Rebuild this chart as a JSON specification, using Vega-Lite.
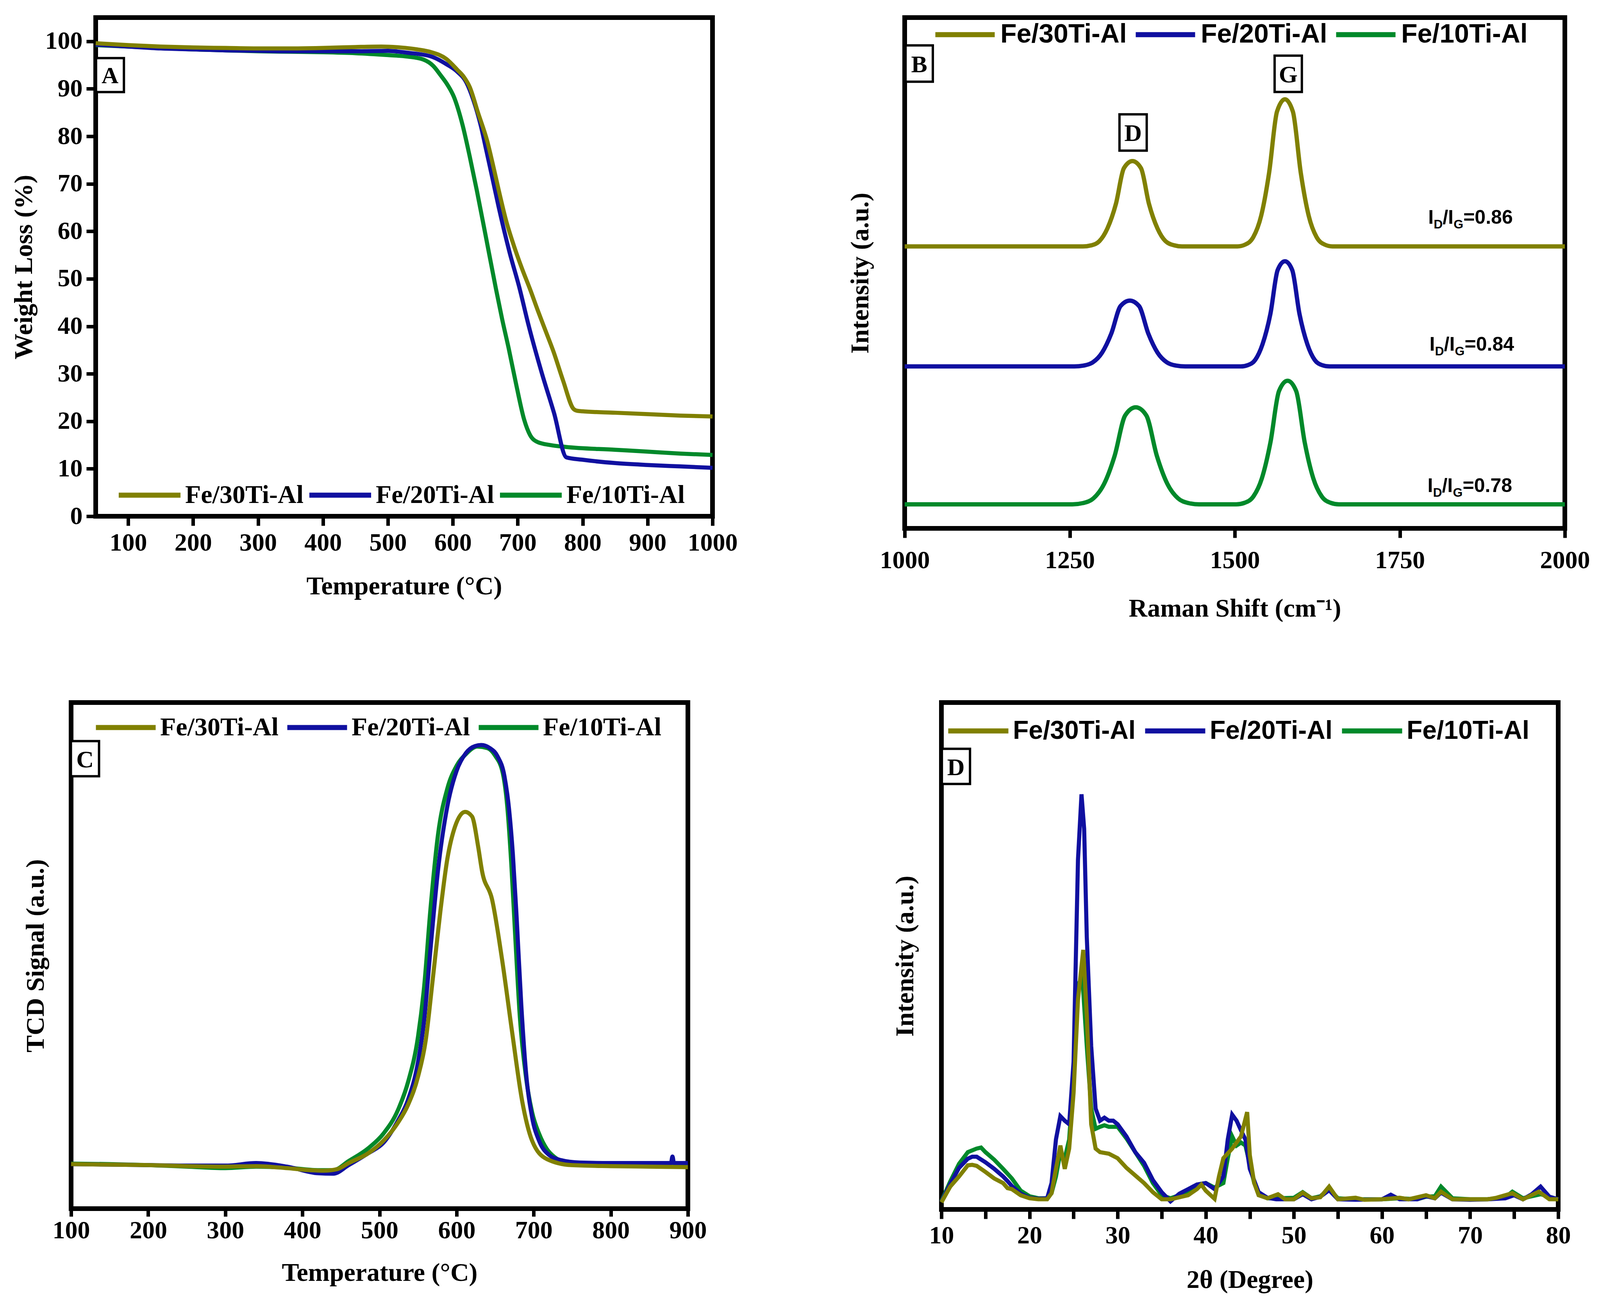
{
  "$schema": "https://vega.github.io/schema/vega-lite/v6.json",
  "background": "white",
  "padding": {"left": 22, "top": 0, "right": 0, "bottom": 0},
  "config": {
    "view": {"stroke": "black", "strokeWidth": 12},
    "axis": {
      "domain": false, "grid": false, "format": "d",
      "labelFont": "Liberation Serif", "labelFontWeight": "bold", "labelFontSize": 64, "labelColor": "black",
      "titleFont": "Liberation Serif", "titleFontWeight": "bold", "titleFontSize": 66, "titleColor": "black",
      "tickColor": "black", "tickSize": 24, "tickWidth": 9,
      "labelOverlap": false, "labelFlush": false
    }
  },
  "datasets": {
    "tga": [
      {"s":"10","x":50,"y":99.2},{"s":"10","x":100,"y":98.9},{"s":"10","x":150,"y":98.6},{"s":"10","x":200,"y":98.3},{"s":"10","x":250,"y":98.1},{"s":"10","x":300,"y":97.9},{"s":"10","x":350,"y":97.8},{"s":"10","x":400,"y":97.7},{"s":"10","x":450,"y":97.5},{"s":"10","x":500,"y":97.1},{"s":"10","x":530,"y":96.8},{"s":"10","x":554,"y":96.2},{"s":"10","x":570,"y":94.8},{"s":"10","x":581,"y":92.9},{"s":"10","x":592,"y":90.8},{"s":"10","x":602,"y":88.2},{"s":"10","x":615,"y":82.4},{"s":"10","x":626,"y":75.8},{"s":"10","x":637,"y":68.6},{"s":"10","x":650,"y":59.5},{"s":"10","x":666,"y":48.2},{"s":"10","x":676,"y":41.5},{"s":"10","x":686,"y":35.4},{"s":"10","x":698,"y":27.5},{"s":"10","x":710,"y":20.3},{"s":"10","x":719,"y":17.1},{"s":"10","x":731,"y":15.6},{"s":"10","x":750,"y":15.0},{"s":"10","x":774,"y":14.6},{"s":"10","x":850,"y":14.0},{"s":"10","x":900,"y":13.6},{"s":"10","x":950,"y":13.2},{"s":"10","x":1000,"y":12.9},
      {"s":"20","x":50,"y":99.3},{"s":"20","x":100,"y":98.9},{"s":"20","x":150,"y":98.5},{"s":"20","x":200,"y":98.3},{"s":"20","x":250,"y":98.1},{"s":"20","x":300,"y":98.0},{"s":"20","x":350,"y":97.9},{"s":"20","x":400,"y":97.9},{"s":"20","x":450,"y":97.9},{"s":"20","x":500,"y":98.0},{"s":"20","x":530,"y":97.6},{"s":"20","x":567,"y":96.8},{"s":"20","x":590,"y":95.2},{"s":"20","x":607,"y":93.6},{"s":"20","x":621,"y":91.3},{"s":"20","x":632,"y":87.5},{"s":"20","x":643,"y":82.3},{"s":"20","x":652,"y":76.8},{"s":"20","x":661,"y":71.2},{"s":"20","x":671,"y":64.9},{"s":"20","x":687,"y":55.8},{"s":"20","x":703,"y":47.9},{"s":"20","x":716,"y":40.6},{"s":"20","x":737,"y":30.2},{"s":"20","x":756,"y":21.7},{"s":"20","x":775,"y":12.4},{"s":"20","x":800,"y":11.9},{"s":"20","x":850,"y":11.2},{"s":"20","x":900,"y":10.8},{"s":"20","x":950,"y":10.5},{"s":"20","x":1000,"y":10.2},
      {"s":"30","x":50,"y":99.6},{"s":"30","x":100,"y":99.2},{"s":"30","x":150,"y":98.9},{"s":"30","x":200,"y":98.7},{"s":"30","x":250,"y":98.6},{"s":"30","x":300,"y":98.5},{"s":"30","x":350,"y":98.5},{"s":"30","x":400,"y":98.6},{"s":"30","x":450,"y":98.8},{"s":"30","x":490,"y":98.9},{"s":"30","x":520,"y":98.7},{"s":"30","x":545,"y":98.3},{"s":"30","x":567,"y":97.7},{"s":"30","x":590,"y":96.3},{"s":"30","x":607,"y":94.0},{"s":"30","x":617,"y":92.5},{"s":"30","x":626,"y":90.4},{"s":"30","x":639,"y":84.9},{"s":"30","x":653,"y":79.0},{"s":"30","x":661,"y":74.5},{"s":"30","x":671,"y":68.5},{"s":"30","x":682,"y":62.3},{"s":"30","x":694,"y":57.0},{"s":"30","x":707,"y":52.0},{"s":"30","x":719,"y":47.8},{"s":"30","x":731,"y":43.3},{"s":"30","x":743,"y":39},{"s":"30","x":755,"y":34.7},{"s":"30","x":770,"y":28.5},{"s":"30","x":786,"y":22.6},{"s":"30","x":792,"y":22.2},{"s":"30","x":800,"y":22.1},{"s":"30","x":850,"y":21.8},{"s":"30","x":900,"y":21.5},{"s":"30","x":950,"y":21.2},{"s":"30","x":1000,"y":21.0}
    ],
    "raman": [
      {"s":"10","x":1000,"y":4.7},{"s":"10","x":1254,"y":4.7},{"s":"10","x":1270,"y":4.95},{"s":"10","x":1286,"y":5.89},{"s":"10","x":1302,"y":8.69},{"s":"10","x":1318,"y":14.2},{"s":"10","x":1334,"y":22.12},{"s":"10","x":1350,"y":23.7},{"s":"10","x":1366,"y":22.12},{"s":"10","x":1382,"y":14.2},{"s":"10","x":1398,"y":8.69},{"s":"10","x":1414,"y":5.89},{"s":"10","x":1430,"y":4.95},{"s":"10","x":1446,"y":4.7},{"s":"10","x":1502,"y":4.7},{"s":"10","x":1515,"y":5.01},{"s":"10","x":1528,"y":6.21},{"s":"10","x":1541,"y":9.78},{"s":"10","x":1554,"y":16.8},{"s":"10","x":1567,"y":26.89},{"s":"10","x":1580,"y":28.9},{"s":"10","x":1593,"y":26.89},{"s":"10","x":1606,"y":16.8},{"s":"10","x":1619,"y":9.78},{"s":"10","x":1632,"y":6.21},{"s":"10","x":1645,"y":5.01},{"s":"10","x":1658,"y":4.7},{"s":"10","x":2000,"y":4.7},
      {"s":"20","x":1000,"y":31.7},{"s":"20","x":1257,"y":31.7},{"s":"20","x":1271,"y":31.87},{"s":"20","x":1285,"y":32.51},{"s":"20","x":1299,"y":34.41},{"s":"20","x":1313,"y":38.15},{"s":"20","x":1327,"y":43.53},{"s":"20","x":1341,"y":44.6},{"s":"20","x":1355,"y":43.53},{"s":"20","x":1369,"y":38.15},{"s":"20","x":1383,"y":34.41},{"s":"20","x":1397,"y":32.51},{"s":"20","x":1411,"y":31.87},{"s":"20","x":1425,"y":31.7},{"s":"20","x":1509,"y":31.7},{"s":"20","x":1520,"y":31.97},{"s":"20","x":1531,"y":32.99},{"s":"20","x":1542,"y":36.03},{"s":"20","x":1554,"y":42.0},{"s":"20","x":1565,"y":50.59},{"s":"20","x":1576,"y":52.3},{"s":"20","x":1587,"y":50.59},{"s":"20","x":1598,"y":42.0},{"s":"20","x":1610,"y":36.03},{"s":"20","x":1621,"y":32.99},{"s":"20","x":1632,"y":31.97},{"s":"20","x":1644,"y":31.7},{"s":"20","x":2000,"y":31.7},
      {"s":"30","x":1000,"y":55.2},{"s":"30","x":1270,"y":55.2},{"s":"30","x":1283,"y":55.42},{"s":"30","x":1295,"y":56.24},{"s":"30","x":1307,"y":58.7},{"s":"30","x":1320,"y":63.55},{"s":"30","x":1332,"y":70.5},{"s":"30","x":1345,"y":71.9},{"s":"30","x":1358,"y":70.5},{"s":"30","x":1370,"y":63.55},{"s":"30","x":1383,"y":58.7},{"s":"30","x":1395,"y":56.24},{"s":"30","x":1408,"y":55.42},{"s":"30","x":1420,"y":55.2},{"s":"30","x":1504,"y":55.2},{"s":"30","x":1516,"y":55.57},{"s":"30","x":1528,"y":57.0},{"s":"30","x":1540,"y":61.2},{"s":"30","x":1552,"y":69.6},{"s":"30","x":1564,"y":81.6},{"s":"30","x":1576,"y":84.0},{"s":"30","x":1588,"y":81.6},{"s":"30","x":1600,"y":69.6},{"s":"30","x":1612,"y":61.2},{"s":"30","x":1624,"y":57.0},{"s":"30","x":1636,"y":55.57},{"s":"30","x":1648,"y":55.2},{"s":"30","x":2000,"y":55.2}
    ],
    "ratio": [
      {"x":1793,"y":59.6,"val":"=0.86"},
      {"x":1795,"y":34.8,"val":"=0.84"},
      {"x":1792,"y":7.1,"val":"=0.78"}
    ],
    "tpr": [
      {"s":"10","x":100,"y":8.9},{"s":"10","x":150,"y":8.8},{"s":"10","x":200,"y":8.6},{"s":"10","x":250,"y":8.3},{"s":"10","x":300,"y":8.0},{"s":"10","x":340,"y":8.3},{"s":"10","x":380,"y":8.1},{"s":"10","x":420,"y":7.6},{"s":"10","x":440,"y":7.6},{"s":"10","x":460,"y":9.4},{"s":"10","x":486,"y":12},{"s":"10","x":505,"y":14.8},{"s":"10","x":524,"y":19.5},{"s":"10","x":537,"y":25},{"s":"10","x":550,"y":34},{"s":"10","x":558,"y":44},{"s":"10","x":566,"y":59},{"s":"10","x":576,"y":74},{"s":"10","x":588,"y":83},{"s":"10","x":600,"y":87.5},{"s":"10","x":612,"y":89.8},{"s":"10","x":627,"y":91.3},{"s":"10","x":640,"y":91.0},{"s":"10","x":650,"y":89.5},{"s":"10","x":660,"y":86},{"s":"10","x":666,"y":79},{"s":"10","x":671,"y":68},{"s":"10","x":676,"y":54},{"s":"10","x":682,"y":38},{"s":"10","x":690,"y":26},{"s":"10","x":698,"y":19},{"s":"10","x":707,"y":14.8},{"s":"10","x":717,"y":11.8},{"s":"10","x":727,"y":10.2},{"s":"10","x":736,"y":9.4},{"s":"10","x":755,"y":9.0},{"s":"10","x":800,"y":8.8},{"s":"10","x":850,"y":8.7},{"s":"10","x":900,"y":8.6},
      {"s":"20","x":100,"y":8.8},{"s":"20","x":150,"y":8.7},{"s":"20","x":200,"y":8.6},{"s":"20","x":250,"y":8.5},{"s":"20","x":300,"y":8.5},{"s":"20","x":340,"y":9.0},{"s":"20","x":380,"y":8.3},{"s":"20","x":420,"y":7.0},{"s":"20","x":440,"y":6.9},{"s":"20","x":460,"y":8.6},{"s":"20","x":486,"y":11.0},{"s":"20","x":505,"y":13.0},{"s":"20","x":524,"y":17.4},{"s":"20","x":537,"y":21.5},{"s":"20","x":550,"y":29},{"s":"20","x":558,"y":37.3},{"s":"20","x":566,"y":51},{"s":"20","x":576,"y":67},{"s":"20","x":588,"y":79.5},{"s":"20","x":600,"y":86.5},{"s":"20","x":612,"y":90},{"s":"20","x":624,"y":91.4},{"s":"20","x":632,"y":91.6},{"s":"20","x":643,"y":91},{"s":"20","x":653,"y":89.4},{"s":"20","x":662,"y":85.5},{"s":"20","x":668,"y":79},{"s":"20","x":673,"y":70},{"s":"20","x":678,"y":57.2},{"s":"20","x":684,"y":40},{"s":"20","x":690,"y":27},{"s":"20","x":698,"y":18},{"s":"20","x":707,"y":13.4},{"s":"20","x":720,"y":10.6},{"s":"20","x":735,"y":9.6},{"s":"20","x":760,"y":9.1},{"s":"20","x":800,"y":9.0},{"s":"20","x":850,"y":9.0},{"s":"20","x":878,"y":9.0},{"s":"20","x":880,"y":10.3},{"s":"20","x":882,"y":9.0},{"s":"20","x":900,"y":9.0},
      {"s":"30","x":100,"y":8.8},{"s":"30","x":150,"y":8.7},{"s":"30","x":200,"y":8.6},{"s":"30","x":250,"y":8.4},{"s":"30","x":300,"y":8.3},{"s":"30","x":340,"y":8.4},{"s":"30","x":380,"y":8.0},{"s":"30","x":410,"y":7.6},{"s":"30","x":428,"y":7.5},{"s":"30","x":445,"y":7.8},{"s":"30","x":460,"y":9.0},{"s":"30","x":486,"y":11.0},{"s":"30","x":505,"y":13.4},{"s":"30","x":524,"y":17.0},{"s":"30","x":537,"y":20.5},{"s":"30","x":550,"y":26.1},{"s":"30","x":560,"y":33.3},{"s":"30","x":569,"y":45.2},{"s":"30","x":579,"y":58.8},{"s":"30","x":588,"y":69.1},{"s":"30","x":598,"y":75.5},{"s":"30","x":611,"y":78.4},{"s":"30","x":620,"y":77.5},{"s":"30","x":628,"y":71.5},{"s":"30","x":633,"y":66.7},{"s":"30","x":646,"y":61.1},{"s":"30","x":659,"y":49.2},{"s":"30","x":672,"y":34.9},{"s":"30","x":685,"y":21.3},{"s":"30","x":698,"y":13.4},{"s":"30","x":717,"y":9.8},{"s":"30","x":749,"y":8.6},{"s":"30","x":800,"y":8.4},{"s":"30","x":850,"y":8.3},{"s":"30","x":900,"y":8.2}
    ],
    "xrd": [
      {"s":"10","x":10,"y":1.6},{"s":"10","x":11,"y":5.5},{"s":"10","x":12,"y":9},{"s":"10","x":13,"y":11.3},{"s":"10","x":14,"y":12.0},{"s":"10","x":14.5,"y":12.2},{"s":"10","x":15,"y":11.3},{"s":"10","x":16,"y":9.8},{"s":"10","x":17,"y":8.0},{"s":"10","x":18,"y":6.1},{"s":"10","x":19,"y":3.7},{"s":"10","x":20,"y":2.6},{"s":"10","x":21,"y":2.2},{"s":"10","x":22,"y":2.2},{"s":"10","x":22.5,"y":3.2},{"s":"10","x":23,"y":6.5},{"s":"10","x":23.5,"y":11.3},{"s":"10","x":24,"y":10.1},{"s":"10","x":24.5,"y":13.8},{"s":"10","x":25,"y":26.1},{"s":"10","x":25.5,"y":44.4},{"s":"10","x":26,"y":45.7},{"s":"10","x":26.5,"y":32.2},{"s":"10","x":27,"y":19.9},{"s":"10","x":27.5,"y":15.9},{"s":"10","x":28,"y":16.3},{"s":"10","x":28.5,"y":16.6},{"s":"10","x":29,"y":16.3},{"s":"10","x":30,"y":16.3},{"s":"10","x":31,"y":14.0},{"s":"10","x":32,"y":11.3},{"s":"10","x":33,"y":8.6},{"s":"10","x":34,"y":5.2},{"s":"10","x":35,"y":2.8},{"s":"10","x":36,"y":2.2},{"s":"10","x":37,"y":2.8},{"s":"10","x":38,"y":3.5},{"s":"10","x":39,"y":4.9},{"s":"10","x":40,"y":5.2},{"s":"10","x":41,"y":4.3},{"s":"10","x":42,"y":5.2},{"s":"10","x":42.5,"y":10.1},{"s":"10","x":43,"y":14.4},{"s":"10","x":43.5,"y":12.6},{"s":"10","x":44,"y":13.2},{"s":"10","x":44.5,"y":12.6},{"s":"10","x":45,"y":8.9},{"s":"10","x":45.5,"y":5.2},{"s":"10","x":46,"y":3.4},{"s":"10","x":47,"y":2.2},{"s":"10","x":48,"y":2.2},{"s":"10","x":50,"y":2.3},{"s":"10","x":51,"y":3.4},{"s":"10","x":52,"y":2.2},{"s":"10","x":53,"y":2.6},{"s":"10","x":54,"y":4.0},{"s":"10","x":55,"y":2.2},{"s":"10","x":57,"y":2.0},{"s":"10","x":60,"y":2.0},{"s":"10","x":62,"y":2.2},{"s":"10","x":64,"y":2.0},{"s":"10","x":65,"y":2.5},{"s":"10","x":66,"y":2.6},{"s":"10","x":66.7,"y":4.5},{"s":"10","x":68,"y":2.2},{"s":"10","x":70,"y":2.0},{"s":"10","x":72,"y":2.0},{"s":"10","x":74,"y":2.4},{"s":"10","x":74.8,"y":3.5},{"s":"10","x":76,"y":2.2},{"s":"10","x":78,"y":3.0},{"s":"10","x":80,"y":2.0},
      {"s":"20","x":10,"y":1.5},{"s":"20","x":11,"y":5},{"s":"20","x":12,"y":8.2},{"s":"20","x":13,"y":10},{"s":"20","x":13.5,"y":10.4},{"s":"20","x":14,"y":10.4},{"s":"20","x":15,"y":9.3},{"s":"20","x":16,"y":8.0},{"s":"20","x":17,"y":6.5},{"s":"20","x":17.5,"y":5.6},{"s":"20","x":18,"y":4.6},{"s":"20","x":19,"y":3.1},{"s":"20","x":20,"y":2.3},{"s":"20","x":21,"y":2.1},{"s":"20","x":22,"y":2.2},{"s":"20","x":22.5,"y":5.2},{"s":"20","x":23,"y":13.8},{"s":"20","x":23.5,"y":18.4},{"s":"20","x":24,"y":17.5},{"s":"20","x":24.5,"y":16.8},{"s":"20","x":25,"y":29.1},{"s":"20","x":25.5,"y":69},{"s":"20","x":25.9,"y":81.9},{"s":"20","x":26.2,"y":75.1},{"s":"20","x":26.5,"y":53.7},{"s":"20","x":27,"y":32.2},{"s":"20","x":27.5,"y":19.9},{"s":"20","x":28,"y":17.5},{"s":"20","x":28.5,"y":18.1},{"s":"20","x":29,"y":17.5},{"s":"20","x":29.5,"y":17.5},{"s":"20","x":30,"y":16.8},{"s":"20","x":31,"y":14.4},{"s":"20","x":32,"y":11.3},{"s":"20","x":33,"y":9.2},{"s":"20","x":34,"y":5.8},{"s":"20","x":35,"y":3.4},{"s":"20","x":36,"y":1.6},{"s":"20","x":37,"y":3.1},{"s":"20","x":38,"y":4.0},{"s":"20","x":39,"y":4.9},{"s":"20","x":40,"y":5.2},{"s":"20","x":41,"y":4.0},{"s":"20","x":42,"y":6.5},{"s":"20","x":42.5,"y":13.8},{"s":"20","x":43,"y":18.7},{"s":"20","x":43.5,"y":17.5},{"s":"20","x":44,"y":15.6},{"s":"20","x":44.5,"y":13.8},{"s":"20","x":45,"y":8.0},{"s":"20","x":46,"y":3.4},{"s":"20","x":47,"y":2.3},{"s":"20","x":48,"y":2.0},{"s":"20","x":50,"y":2.0},{"s":"20","x":51,"y":3.0},{"s":"20","x":52,"y":2.0},{"s":"20","x":53,"y":2.5},{"s":"20","x":54,"y":3.8},{"s":"20","x":55,"y":2.0},{"s":"20","x":57,"y":1.9},{"s":"20","x":60,"y":2.0},{"s":"20","x":61,"y":2.9},{"s":"20","x":62,"y":2.0},{"s":"20","x":64,"y":2.0},{"s":"20","x":65,"y":2.6},{"s":"20","x":66,"y":2.2},{"s":"20","x":66.7,"y":3.3},{"s":"20","x":68,"y":2.0},{"s":"20","x":70,"y":1.9},{"s":"20","x":72,"y":2.0},{"s":"20","x":74,"y":2.2},{"s":"20","x":75,"y":2.8},{"s":"20","x":76,"y":2.0},{"s":"20","x":77,"y":3.0},{"s":"20","x":78,"y":4.5},{"s":"20","x":79,"y":2.5},{"s":"20","x":80,"y":2.0},
      {"s":"30","x":10,"y":1.4},{"s":"30","x":11,"y":4.5},{"s":"30","x":12,"y":6.5},{"s":"30","x":13,"y":8.7},{"s":"30","x":13.5,"y":8.8},{"s":"30","x":14,"y":8.6},{"s":"30","x":15,"y":7.4},{"s":"30","x":16,"y":6.1},{"s":"30","x":17,"y":5.2},{"s":"30","x":17.5,"y":4.2},{"s":"30","x":18,"y":4.0},{"s":"30","x":19,"y":2.8},{"s":"30","x":20,"y":2.2},{"s":"30","x":21,"y":2.0},{"s":"30","x":22,"y":2.0},{"s":"30","x":22.5,"y":3.2},{"s":"30","x":23,"y":8.0},{"s":"30","x":23.5,"y":12.6},{"s":"30","x":24,"y":8.0},{"s":"30","x":24.5,"y":12.0},{"s":"30","x":25,"y":23.0},{"s":"30","x":25.5,"y":41.4},{"s":"30","x":26.1,"y":51.2},{"s":"30","x":26.5,"y":38.3},{"s":"30","x":27,"y":16.8},{"s":"30","x":27.5,"y":12.0},{"s":"30","x":28,"y":11.3},{"s":"30","x":29,"y":11.0},{"s":"30","x":30,"y":10.1},{"s":"30","x":31,"y":8.2},{"s":"30","x":32,"y":6.7},{"s":"30","x":33,"y":5.2},{"s":"30","x":34,"y":3.4},{"s":"30","x":35,"y":2.0},{"s":"30","x":36,"y":2.0},{"s":"30","x":37,"y":2.4},{"s":"30","x":38,"y":2.8},{"s":"30","x":39,"y":4.0},{"s":"30","x":39.5,"y":4.9},{"s":"30","x":40,"y":3.7},{"s":"30","x":41,"y":2.1},{"s":"30","x":41.5,"y":6.5},{"s":"30","x":42,"y":10.1},{"s":"30","x":43,"y":12.0},{"s":"30","x":44,"y":14.4},{"s":"30","x":44.7,"y":19.2},{"s":"30","x":45,"y":10.7},{"s":"30","x":45.5,"y":5.2},{"s":"30","x":46,"y":2.8},{"s":"30","x":47,"y":2.2},{"s":"30","x":48.2,"y":3.0},{"s":"30","x":49,"y":2.0},{"s":"30","x":50,"y":2.0},{"s":"30","x":51,"y":3.3},{"s":"30","x":52,"y":2.2},{"s":"30","x":53,"y":2.4},{"s":"30","x":54,"y":4.5},{"s":"30","x":55,"y":2.0},{"s":"30","x":57,"y":2.3},{"s":"30","x":58,"y":1.9},{"s":"30","x":60,"y":2.0},{"s":"30","x":62,"y":2.3},{"s":"30","x":63,"y":2.0},{"s":"30","x":65,"y":2.8},{"s":"30","x":66,"y":2.2},{"s":"30","x":66.7,"y":3.5},{"s":"30","x":68,"y":2.0},{"s":"30","x":70,"y":2.0},{"s":"30","x":72,"y":2.0},{"s":"30","x":73,"y":2.3},{"s":"30","x":74.8,"y":3.2},{"s":"30","x":76,"y":2.0},{"s":"30","x":77.8,"y":3.5},{"s":"30","x":79,"y":2.0},{"s":"30","x":80,"y":2.0}
    ],
    "tags": [
      {"p":"A","x":72,"y":92.9,"label":"A"},
      {"p":"B","x":1022,"y":91,"label":"B"},
      {"p":"B","x":1346,"y":77.5,"label":"D"},
      {"p":"B","x":1581,"y":89,"label":"G"},
      {"p":"C","x":118,"y":88.9,"label":"C"},
      {"p":"D","x":11.65,"y":87.4,"label":"D"}
    ]
  },
  "columns": 1,
  "spacing": 177,
  "resolve": {"scale": {"color": "independent"}, "legend": {"color": "independent"}},
  "concat": [
    {
      "spacing": 269,
      "resolve": {"scale": {"color": "independent"}, "legend": {"color": "independent"}},
      "hconcat": [
        {
          "spacing": -161,
          "resolve": {"scale": {"color": "independent"}, "legend": {"color": "independent"}},
          "hconcat": [
            {
              "width": 1,
              "height": 1,
              "view": {"fill": "white", "stroke": null},
              "data": {"values": []},
              "mark": "point"
            },
            {
              "width": 1579,
              "height": 1277,
              "encoding": {
                "x": {"field": "x", "type": "quantitative", "scale": {"domain": [50, 1000], "nice": false, "zero": false},
                  "axis": {"title": "Temperature (°C)", "values": [100, 200, 300, 400, 500, 600, 700, 800, 900, 1000], "labelPadding": 12, "titlePadding": 47}},
                "y": {"field": "y", "type": "quantitative", "scale": {"domain": [0, 105], "nice": false},
                  "axis": {"title": "Weight Loss (%)", "values": [0, 10, 20, 30, 40, 50, 60, 70, 80, 90, 100], "labelPadding": 10, "titlePadding": 20}}
              },
              "layer": [
                {
                  "data": {"name": "tga"},
                  "mark": {"type": "line", "strokeWidth": 10.5, "interpolate": "monotone"},
                  "encoding": {
                    "color": {"field": "s", "type": "nominal",
                      "scale": {"domain": ["30", "20", "10"], "range": ["#808000", "#1010a0", "#00892a"]},
                      "legend": {"orient": "none", "legendX": 52, "legendY": 1137, "direction": "horizontal", "title": null,
                        "symbolType": "stroke", "symbolSize": 25000, "symbolStrokeWidth": 13,
                        "labelExpr": "'Fe/' + datum.label + 'Ti-Al'", "labelFont": "Liberation Serif", "labelFontWeight": "bold",
                        "labelFontSize": 66, "labelColor": "black", "labelOffset": 5, "columnPadding": -13, "padding": 0, "labelLimit": 2000}}
                  }
                },
                {
                  "data": {"name": "tags"},
                  "transform": [{"filter": "datum.p == 'A'"}],
                  "mark": {"type": "point", "shape": "M-0.82,-1L0.82,-1L0.82,1L-0.82,1Z", "size": 7569, "filled": true, "fill": "white", "stroke": "black", "strokeWidth": 6, "opacity": 1}
                },
                {
                  "data": {"name": "tags"},
                  "transform": [{"filter": "datum.p == 'A'"}],
                  "mark": {"type": "text", "font": "Liberation Serif", "fontWeight": "bold", "fontSize": 60, "baseline": "middle", "dy": 3, "color": "black"},
                  "encoding": {"text": {"field": "label"}}
                }
              ]
            }
          ]
        },
        {
          "width": 1690,
          "height": 1308,
          "encoding": {
            "x": {"field": "x", "type": "quantitative", "scale": {"domain": [1000, 2000], "nice": false, "zero": false},
              "axis": {"title": "Raman Shift (cm⁻¹)", "values": [1000, 1250, 1500, 1750, 2000], "labelPadding": 26, "titlePadding": 59}},
            "y": {"field": "y", "type": "quantitative", "scale": {"domain": [0, 100], "nice": false},
              "axis": {"title": "Intensity (a.u.)", "labels": false, "ticks": false, "titlePadding": 80}}
          },
          "layer": [
            {
              "data": {"name": "raman"},
              "mark": {"type": "line", "strokeWidth": 11, "interpolate": "monotone"},
              "encoding": {
                "color": {"field": "s", "type": "nominal",
                  "scale": {"domain": ["30", "20", "10"], "range": ["#808000", "#1010a0", "#00892a"]},
                  "legend": {"orient": "none", "legendX": 72, "legendY": -39, "direction": "horizontal", "title": null,
                    "symbolType": "stroke", "symbolSize": 23104, "symbolStrokeWidth": 13,
                    "labelExpr": "'Fe/' + datum.label + 'Ti-Al'", "labelFont": "Liberation Sans", "labelFontWeight": "bold",
                    "labelFontSize": 68, "labelColor": "black", "labelOffset": 8, "columnPadding": -4, "padding": 0, "labelLimit": 2000}}
              }
            },
            {
              "data": {"name": "tags"},
              "transform": [{"filter": "datum.p == 'B'"}],
              "mark": {"type": "point", "shape": "M-0.75,-1L0.75,-1L0.75,1L-0.75,1Z", "size": 8649, "filled": true, "fill": "white", "stroke": "black", "strokeWidth": 6, "opacity": 1}
            },
            {
              "data": {"name": "tags"},
              "transform": [{"filter": "datum.p == 'B'"}],
              "mark": {"type": "text", "font": "Liberation Serif", "fontWeight": "bold", "fontSize": 62, "baseline": "middle", "dy": 3, "color": "black"},
              "encoding": {"text": {"field": "label"}}
            },
            {
              "data": {"name": "ratio"},
              "mark": {"type": "text", "font": "Liberation Sans", "fontWeight": "bold", "fontSize": 50, "align": "left", "baseline": "alphabetic", "color": "black"},
              "encoding": {"text": {"value": "I"}}
            },
            {
              "data": {"name": "ratio"},
              "mark": {"type": "text", "font": "Liberation Sans", "fontWeight": "bold", "fontSize": 32, "align": "left", "baseline": "alphabetic", "dx": 14, "dy": 12, "color": "black"},
              "encoding": {"text": {"value": "D"}}
            },
            {
              "data": {"name": "ratio"},
              "mark": {"type": "text", "font": "Liberation Sans", "fontWeight": "bold", "fontSize": 50, "align": "left", "baseline": "alphabetic", "dx": 37, "color": "black"},
              "encoding": {"text": {"value": "/I"}}
            },
            {
              "data": {"name": "ratio"},
              "mark": {"type": "text", "font": "Liberation Sans", "fontWeight": "bold", "fontSize": 32, "align": "left", "baseline": "alphabetic", "dx": 65, "dy": 12, "color": "black"},
              "encoding": {"text": {"value": "G"}}
            },
            {
              "data": {"name": "ratio"},
              "mark": {"type": "text", "font": "Liberation Sans", "fontWeight": "bold", "fontSize": 50, "align": "left", "baseline": "alphabetic", "dx": 90, "color": "black"},
              "encoding": {"text": {"field": "val"}}
            }
          ]
        }
      ]
    },
    {
      "spacing": 463,
      "resolve": {"scale": {"color": "independent"}, "legend": {"color": "independent"}},
      "hconcat": [
        {
          "width": 1579,
          "height": 1296,
          "encoding": {
            "x": {"field": "x", "type": "quantitative", "scale": {"domain": [100, 900], "nice": false, "zero": false},
              "axis": {"title": "Temperature (°C)", "values": [100, 200, 300, 400, 500, 600, 700, 800, 900], "tickSize": 20, "labelPadding": 4, "titlePadding": 44}},
            "y": {"field": "y", "type": "quantitative", "scale": {"domain": [0, 100], "nice": false},
              "axis": {"title": "TCD Signal (a.u.)", "labels": false, "ticks": false, "titlePadding": 57}}
          },
          "layer": [
            {
              "data": {"name": "tpr"},
              "mark": {"type": "line", "strokeWidth": 10.5, "interpolate": "monotone"},
              "encoding": {
                "color": {"field": "s", "type": "nominal",
                  "scale": {"domain": ["30", "20", "10"], "range": ["#808000", "#1010a0", "#00892a"]},
                  "legend": {"orient": "none", "legendX": 57, "legendY": -19, "direction": "horizontal", "title": null,
                    "symbolType": "stroke", "symbolSize": 23409, "symbolStrokeWidth": 13,
                    "labelExpr": "'Fe/' + datum.label + 'Ti-Al'", "labelFont": "Liberation Serif", "labelFontWeight": "bold",
                    "labelFontSize": 66, "labelColor": "black", "labelOffset": 5, "columnPadding": -5, "padding": 0, "labelLimit": 2000}}
              }
            },
            {
              "data": {"name": "tags"},
              "transform": [{"filter": "datum.p == 'C'"}],
              "mark": {"type": "point", "shape": "M-0.8,-1L0.8,-1L0.8,1L-0.8,1Z", "size": 8100, "filled": true, "fill": "white", "stroke": "black", "strokeWidth": 6, "opacity": 1}
            },
            {
              "data": {"name": "tags"},
              "transform": [{"filter": "datum.p == 'C'"}],
              "mark": {"type": "text", "font": "Liberation Serif", "fontWeight": "bold", "fontSize": 62, "baseline": "middle", "dy": 3, "color": "black"},
              "encoding": {"text": {"field": "label"}}
            }
          ]
        },
        {
          "width": 1579,
          "height": 1298,
          "encoding": {
            "x": {"field": "x", "type": "quantitative", "scale": {"domain": [10, 80], "nice": false, "zero": false},
              "axis": {"title": "2θ (Degree)", "values": [10, 15, 20, 25, 30, 35, 40, 45, 50, 55, 60, 65, 70, 75, 80],
                "labelExpr": "datum.value % 10 === 0 ? datum.label : ''", "labelPadding": 11, "titlePadding": 49}},
            "y": {"field": "y", "type": "quantitative", "scale": {"domain": [0, 100], "nice": false},
              "axis": {"title": "Intensity (a.u.)", "labels": false, "ticks": false, "titlePadding": 59}}
          },
          "layer": [
            {
              "data": {"name": "xrd"},
              "mark": {"type": "line", "strokeWidth": 10.5},
              "encoding": {
                "color": {"field": "s", "type": "nominal",
                  "scale": {"domain": ["30", "20", "10"], "range": ["#808000", "#1010a0", "#00892a"]},
                  "legend": {"orient": "none", "legendX": 11, "legendY": -11, "direction": "horizontal", "title": null,
                    "symbolType": "stroke", "symbolSize": 23716, "symbolStrokeWidth": 13,
                    "labelExpr": "'Fe/' + datum.label + 'Ti-Al'", "labelFont": "Liberation Sans", "labelFontWeight": "bold",
                    "labelFontSize": 66, "labelColor": "black", "labelOffset": 5, "columnPadding": -3, "padding": 0, "labelLimit": 2000}}
              }
            },
            {
              "data": {"name": "tags"},
              "transform": [{"filter": "datum.p == 'D'"}],
              "mark": {"type": "point", "shape": "M-0.8,-1L0.8,-1L0.8,1L-0.8,1Z", "size": 8100, "filled": true, "fill": "white", "stroke": "black", "strokeWidth": 6, "opacity": 1}
            },
            {
              "data": {"name": "tags"},
              "transform": [{"filter": "datum.p == 'D'"}],
              "mark": {"type": "text", "font": "Liberation Serif", "fontWeight": "bold", "fontSize": 62, "baseline": "middle", "dy": 3, "color": "black"},
              "encoding": {"text": {"field": "label"}}
            }
          ]
        }
      ]
    }
  ]
}
